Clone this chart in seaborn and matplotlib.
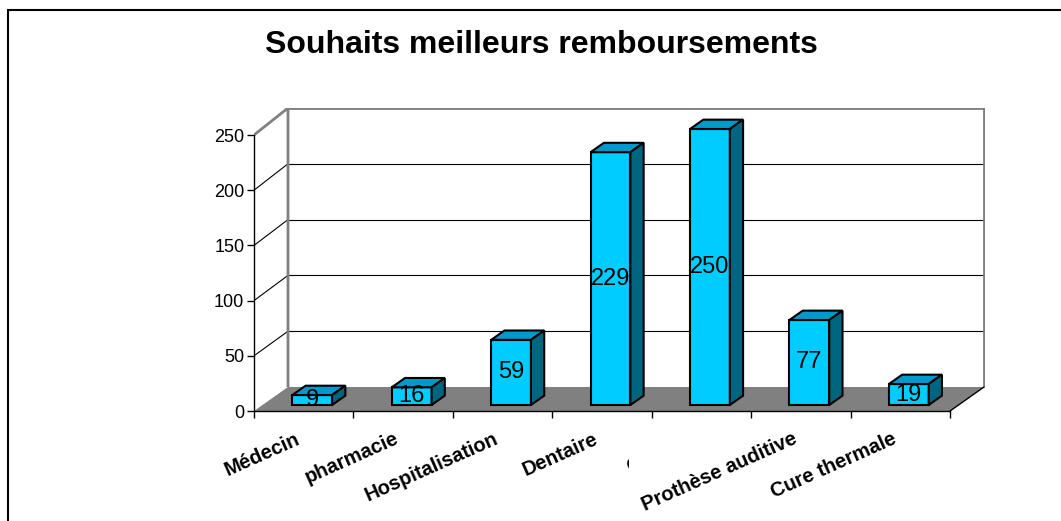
import numpy as np
import matplotlib.pyplot as plt
import seaborn as sns
from matplotlib.patches import Polygon
from matplotlib.lines import Line2D
from matplotlib.transforms import Bbox, ScaledTranslation

categories = ["Médecin", "pharmacie", "Hospitalisation", "Dentaire",
              "Optique", "Prothèse auditive", "Cure thermale"]
values = [9, 16, 59, 229, 250, 77, 19]
yticks = [0, 50, 100, 150, 200, 250]

sns.set_style("white")
plt.rcParams["font.family"] = ["Liberation Sans", "DejaVu Sans"]
plt.rcParams["text.color"] = "black"
plt.rcParams["xtick.color"] = "black"
plt.rcParams["ytick.color"] = "black"
plt.rcParams["axes.labelcolor"] = "black"

W, H = 1061, 521
fig = plt.figure(figsize=(W / 100, H / 100), dpi=100)

# axes = front plane of the 3d box (pixel measures from the reference)
x0_px, x1_px, y0_px, y1_px = 254, 985, 411, 108
cat_px = 99.43
unit_px = 1.104
ax = fig.add_axes([x0_px / W, 1 - y0_px / H, (x1_px - x0_px) / W, (y0_px - y1_px) / H])
xmax = -0.5 + (x1_px - x0_px) / cat_px
ymax = (y0_px - y1_px) / unit_px

# depth of the box in data units
dx = 34 / cat_px
dy = 24 / unit_px
s_back = (ymax - dy) / 250

face = "#00CCFF"
top_c = "#0099CC"
side_c = "#006680"
grey = "#808080"

# floor
ax.add_patch(Polygon([(-0.5, 0), (6.5, 0), (6.5 + dx, dy), (-0.5 + dx, dy)],
                     closed=True, facecolor=grey, edgecolor="none", zorder=1))
ax.plot([6.5, 6.5 + dx], [0, dy], color="black", lw=1, zorder=2)

# back wall + side wall gridlines
for k in yticks[1:-1]:
    yb = dy + k * s_back
    ax.plot([-0.5 + dx, 6.5 + dx], [yb, yb], color="black", lw=0.8, zorder=1)
    ax.plot([-0.5, -0.5 + dx], [k, yb], color="black", lw=0.8, zorder=1)
ax.plot([-0.5, -0.5 + dx, -0.5 + dx], [250, ymax, dy], color=grey, lw=2, zorder=1,
        solid_capstyle="butt")
ax.plot([-0.5 + dx, 6.5 + dx, 6.5 + dx], [ymax, ymax, dy], color=grey, lw=2, zorder=1,
        solid_capstyle="butt")

# front faces of the bars
sns.barplot(x=categories, y=values, color=face, saturation=1, width=0.4,
            edgecolor="black", linewidth=1.5, ax=ax, zorder=3)

f0 = 0.25      # front face position inside the depth
bd = 0.39      # bar depth as part of the box depth

bars = ax.containers[0]
for p in bars:
    p.set_x(p.get_x() + f0 * dx)
    p.set_y(f0 * dy)
    xa = p.get_x()
    xb = xa + p.get_width()
    yb0 = p.get_y()
    yt = yb0 + p.get_height()
    ddx, ddy = bd * dx, bd * dy
    ax.add_patch(Polygon([(xa, yt), (xb, yt), (xb + ddx, yt + ddy), (xa + ddx, yt + ddy)],
                         closed=True, facecolor=top_c, edgecolor="black", lw=1.5, zorder=3))
    ax.add_patch(Polygon([(xb, yb0), (xb, yt), (xb + ddx, yt + ddy), (xb + ddx, yb0 + ddy)],
                         closed=True, facecolor=side_c, edgecolor="black", lw=1.5, zorder=3))

ax.bar_label(bars, labels=[str(v) for v in values], label_type="center",
             fontsize=17, color="black", zorder=5)

ax.set_xlim(-0.5, xmax)
ax.set_ylim(0, ymax)
ax.set_facecolor("white")

for s in ["top", "right"]:
    ax.spines[s].set_visible(False)
ax.spines["left"].set_bounds(0, 250)
ax.spines["bottom"].set_bounds(-0.5, 6.5)
for s in ["left", "bottom"]:
    ax.spines[s].set_color("black")
    ax.spines[s].set_linewidth(1)
    ax.spines[s].set_zorder(4)

ax.set_yticks(yticks)
ax.tick_params(axis="y", length=5, width=1, direction="out", pad=2,
               labelsize=13, color="black", left=True)
ax.set_xticks(np.arange(-0.5, 7, 1), minor=True)
ax.set_xticks(range(len(categories)))
ax.set_xticklabels(categories, fontsize=14.5, fontweight="bold", rotation=24,
                   ha="right", rotation_mode="anchor")
ax.tick_params(axis="x", which="major", length=0, pad=13)
ax.tick_params(axis="x", which="minor", length=5, width=1, direction="out",
               color="black", bottom=True)
ax.set_xlabel("")
ax.set_ylabel("")

fig.text(541 / W, 1 - 53 / H, "Souhaits meilleurs remboursements",
         ha="center", va="baseline", fontsize=23, fontweight="bold")

# chart frame (left and top edges)
fig.add_artist(Line2D([8 / W, 8 / W], [0, 1 - 10 / H], color="black", lw=1.5))
fig.add_artist(Line2D([8 / W, 1], [1 - 10 / H, 1 - 10 / H], color="black", lw=1.5))

# nudge the category labels a little to the left, as in the original
fig.canvas.draw()
shift = ScaledTranslation(-9 / 100, 0, fig.dpi_scale_trans)
for lab in ax.get_xticklabels():
    lab.set_transform(lab.get_transform() + shift)

# the Optique label is cut off in the original chart: keep only the edge of its first letter
fig.canvas.draw()
lab = ax.get_xticklabels()[4]
ext = lab.get_window_extent()
lab.set_clip_box(Bbox([[0, 0], [ext.x0 + 6, H]]))
lab.set_clip_on(True)

fig.savefig("out.png", dpi=100)
